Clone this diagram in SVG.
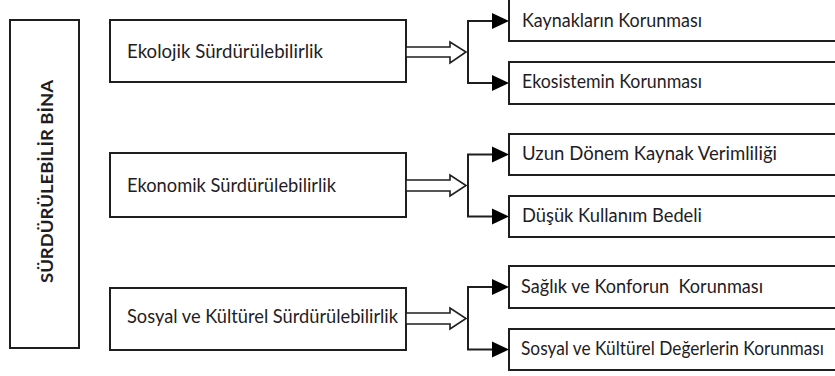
<svg xmlns="http://www.w3.org/2000/svg" width="835" height="376" viewBox="0 0 835 376">
<style>
.box{fill:#fff;stroke:#1e1e1e;stroke-width:2}
.t{font-family:Lato,"Open Sans","Liberation Sans",sans-serif;font-size:18.5px;fill:#1f1d24}
.tb{font-family:Lato,"Open Sans","Liberation Sans",sans-serif;font-size:17px;font-weight:bold;fill:#1f1d24}
.ln{fill:none;stroke:#1e1e1e;stroke-width:2}
.dbl{fill:#fff;stroke:#1e1e1e;stroke-width:1.6;stroke-linejoin:miter}
.ah{fill:#000}
</style>
<rect width="835" height="376" fill="#fff"/>
<g id="root">
<rect class="box" x="10" y="20" width="69" height="328"/>
<text class="tb" transform="translate(53,181.5) rotate(-90)" text-anchor="middle" textLength="203" lengthAdjust="spacingAndGlyphs">SÜRDÜRÜLEBİLİR BİNA</text>
</g>
<g id="ekolojik">
<rect class="box" x="110" y="20" width="296" height="62"/>
<text class="t" x="127" y="58" textLength="196" lengthAdjust="spacingAndGlyphs">Ekolojik Sürdürülebilirlik</text>
</g>
<g id="ekonomik">
<rect class="box" x="110" y="153" width="296" height="64"/>
<text class="t" x="127" y="192" textLength="209" lengthAdjust="spacingAndGlyphs">Ekonomik Sürdürülebilirlik</text>
</g>
<g id="sosyal">
<rect class="box" x="110" y="288" width="296" height="62"/>
<text class="t" x="127" y="323" textLength="271" lengthAdjust="spacingAndGlyphs">Sosyal ve Kültürel Sürdürülebilirlik</text>
</g>
<g id="kaynak">
<rect class="box" x="509" y="-2" width="340" height="43"/>
<text class="t" x="522" y="27" textLength="180" lengthAdjust="spacingAndGlyphs">Kaynakların Korunması</text>
</g>
<g id="ekosistem">
<rect class="box" x="509" y="62" width="340" height="42"/>
<text class="t" x="522" y="88" textLength="180" lengthAdjust="spacingAndGlyphs">Ekosistemin Korunması</text>
</g>
<g id="uzun">
<rect class="box" x="509" y="134" width="340" height="41"/>
<text class="t" x="522" y="160" textLength="255" lengthAdjust="spacingAndGlyphs">Uzun Dönem Kaynak Verimliliği</text>
</g>
<g id="dusuk">
<rect class="box" x="509" y="196" width="340" height="41"/>
<text class="t" x="522" y="222" textLength="180" lengthAdjust="spacingAndGlyphs">Düşük Kullanım Bedeli</text>
</g>
<g id="saglik">
<rect class="box" x="509" y="266" width="340" height="42"/>
<text class="t" x="521" y="293" xml:space="preserve" textLength="242" lengthAdjust="spacingAndGlyphs">Sağlık ve Konforun  Korunması</text>
</g>
<g id="degerler">
<rect class="box" x="509" y="329" width="340" height="41"/>
<text class="t" x="521" y="355" textLength="303" lengthAdjust="spacingAndGlyphs">Sosyal ve Kültürel Değerlerin Korunması</text>
</g>
<g id="connectors">
<polygon class="dbl" points="406,47 450,47 450,42 466,52 450,63 450,57 406,57"/>
<polygon class="dbl" points="406,180 450,180 450,175 466,185.5 450,196 450,191 406,191"/>
<polygon class="dbl" points="406,313 450,313 450,308 466,318.5 450,329 450,324 406,324"/>
<path class="ln" d="M493,21 H468 V83 H493"/>
<path class="ln" d="M493,154.5 H468 V216.5 H493"/>
<path class="ln" d="M493,287 H468 V349.5 H493"/>
<polygon class="ah" points="492,13 509,21 492,29"/>
<polygon class="ah" points="492,75 509,83 492,91"/>
<polygon class="ah" points="492,146.5 509,154.5 492,162.5"/>
<polygon class="ah" points="492,208.5 509,216.5 492,224.5"/>
<polygon class="ah" points="492,279 509,287 492,295"/>
<polygon class="ah" points="492,341.5 509,349.5 492,357.5"/>
</g>
</svg>
